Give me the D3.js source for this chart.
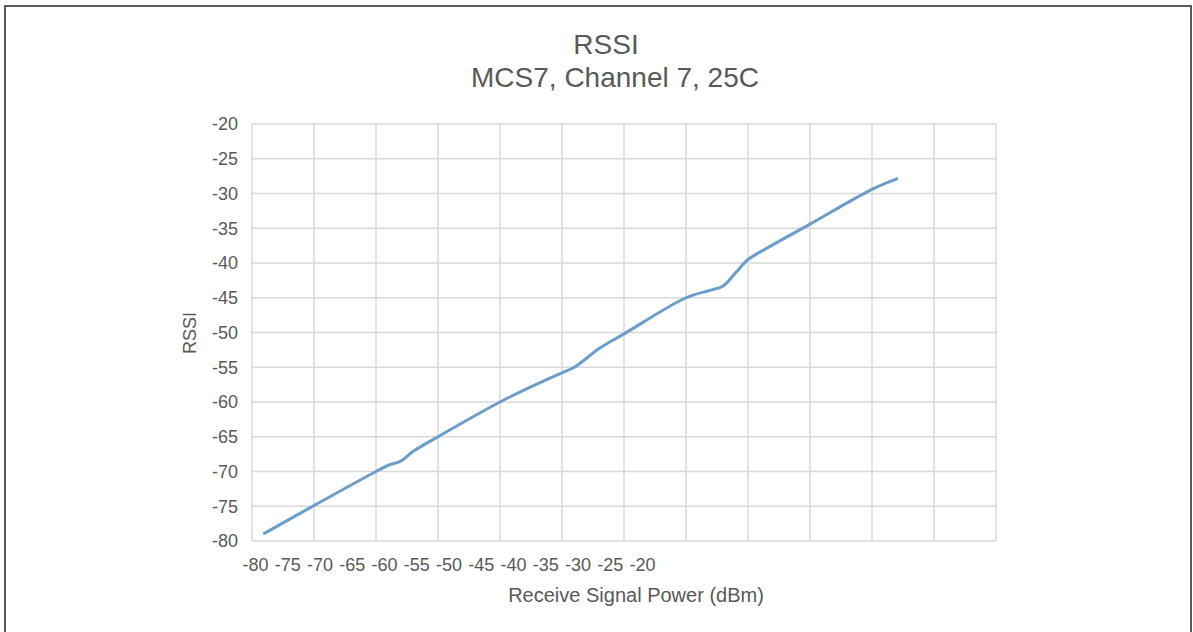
<!DOCTYPE html>
<html>
<head>
<meta charset="utf-8">
<script src="https://cdn.jsdelivr.net/npm/d3@7"></script>
<style>
  body { margin: 0; background: #fff; }
  text { font-family: "Liberation Sans", Arial, sans-serif; fill: #595959; }
</style>
</head>
<body>
<script>
// receive power (dBm) and measured RSSI
const power = [-79, -75, -70, -69, -68, -67, -65, -60, -57, -55, -54, -52, -50, -45, -43, -42, -41, -40, -39, -35, -30, -28];
const rssi = [-78.9, -74.9, -70, -69.1, -68.5, -67.1, -65, -60, -57.4, -55.8, -55, -52.3, -50.2, -45, -43.9, -43.3, -41.4, -39.5, -38.4, -34.4, -29.4, -27.9];

const xLabels = ["-80", "-75", "-70", "-65", "-60", "-55", "-50", "-45", "-40", "-35", "-30", "-25", "-20"];
const yTicks = [-80, -75, -70, -65, -60, -55, -50, -45, -40, -35, -30, -25, -20];
const xGrid = [-80, -75, -70, -65, -60, -55, -50, -45, -40, -35, -30, -25, -20];

const data = power.map((p, i) => ({ p, r: rssi[i] }));

const W = 1193, H = 632;
const margin = { top: 124, right: 197, bottom: 91, left: 252 };
const width = W - margin.left - margin.right;
const height = H - margin.top - margin.bottom;

const svg = d3.select("body").append("svg").attr("width", W).attr("height", H);

// outer frame
svg.append("rect")
  .attr("x", 5).attr("y", 6)
  .attr("width", 1186).attr("height", 640)
  .attr("fill", "none")
  .attr("stroke", "#5a5a5a")
  .attr("stroke-width", 2);

const g = svg.append("g").attr("transform", "translate(" + margin.left + "," + margin.top + ")");

const x = d3.scaleLinear().domain([-80, -20]).range([0, width]);
const y = d3.scaleLinear().domain([-80, -20]).range([height, 0]);

// grid
g.append("g")
  .attr("class", "grid")
  .selectAll("line.h")
  .data(yTicks)
  .enter()
  .append("line")
  .attr("x1", 0).attr("x2", width)
  .attr("y1", (d) => y(d)).attr("y2", (d) => y(d));

g.append("g")
  .attr("class", "grid")
  .selectAll("line.v")
  .data(xGrid)
  .enter()
  .append("line")
  .attr("y1", 0).attr("y2", height)
  .attr("x1", (d) => x(d)).attr("x2", (d) => x(d));

g.selectAll(".grid line")
  .attr("stroke", "#d9d9d9")
  .attr("stroke-width", 1.5);

// y axis labels
const yAxis = g.append("g")
  .call(d3.axisLeft(y).tickValues(yTicks).tickSize(0).tickPadding(14).tickFormat((d) => String(d)));
yAxis.select(".domain").remove();
yAxis.selectAll("text")
  .style("font-size", "18px")
  .style("font-family", "Liberation Sans, Arial, sans-serif")
  .attr("fill", "#595959");

// x axis labels (squeezed category labels, as in the original)
const xl = d3.scalePoint().domain(xLabels).range([3, 390]);
const xAxis = g.append("g")
  .attr("transform", "translate(0," + height + ")")
  .call(d3.axisBottom(xl).tickSize(0).tickPadding(17));
xAxis.select(".domain").remove();
xAxis.selectAll("text")
  .style("font-size", "18px")
  .style("font-family", "Liberation Sans, Arial, sans-serif")
  .attr("fill", "#595959");

// series
const line = d3.line()
  .x((d) => x(d.p))
  .y((d) => y(d.r))
  .curve(d3.curveCatmullRom.alpha(0.5));

g.append("path")
  .datum(data)
  .attr("d", line)
  .attr("fill", "none")
  .attr("stroke", "#6b9dcc")
  .attr("stroke-width", 3)
  .attr("stroke-linecap", "round");

// titles
svg.append("text")
  .attr("x", 606).attr("y", 54)
  .attr("text-anchor", "middle")
  .style("font-size", "28px")
  .text("RSSI");

svg.append("text")
  .attr("x", 615).attr("y", 87)
  .attr("text-anchor", "middle")
  .style("font-size", "28px")
  .text("MCS7, Channel 7, 25C");

svg.append("text")
  .attr("x", 636).attr("y", 602)
  .attr("text-anchor", "middle")
  .style("font-size", "20px")
  .text("Receive Signal Power (dBm)");

svg.append("text")
  .attr("transform", "translate(196,333) rotate(-90)")
  .attr("text-anchor", "middle")
  .style("font-size", "18px")
  .text("RSSI");
</script>
</body>
</html>
